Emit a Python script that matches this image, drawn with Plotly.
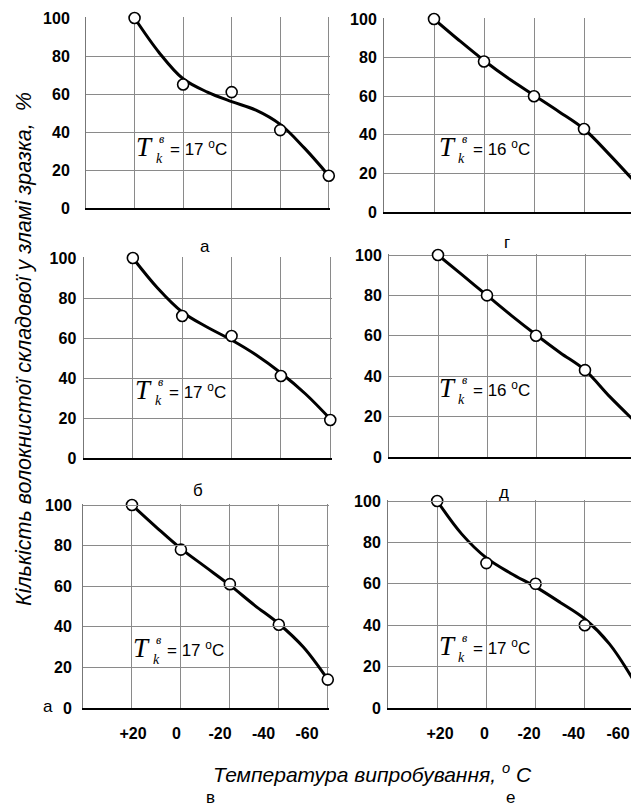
import plotly.graph_objects as go

W, H = 631, 809

# ---------------- data ----------------
temps = [20, 0, -20, -40, -60]
tick_text = ["+20", "0", "-20", "-40", "-60"]
y_ticks = [0, 20, 40, 60, 80, 100]

# measured points (open circles)
pts_a = [100, 65, 61, 41, 17]
pts_g = [100, 78, 60, 43, 16]
pts_b = [100, 71, 61, 41, 19]
pts_d = [100, 80, 60, 43, 18]
pts_v = [100, 78, 61, 41, 14]
pts_e = [100, 70, 60, 40, 14]

# trend curves
curve_t = [20, 10, 0, -10, -20, -30, -40, -50, -60]
curve_a = [100, 82, 68, 61, 56, 51.5, 44, 31.5, 17]
curve_g = [100, 89, 78.5, 69, 60.5, 52, 43, 30, 16]
curve_b = [100, 85, 73, 65.5, 59, 51.5, 42.5, 32, 19.5]
curve_d = [100, 90, 80, 70, 60.5, 51.5, 43, 30, 18]
curve_v = [100, 89, 78.5, 69.5, 60.5, 50.7, 41.5, 30, 14]
curve_e = [100, 84, 72.5, 65, 58.5, 51, 43, 31, 13]

panel_labels = ["а", "г", "б", "д", "в", "е"]
tk_values = ["17", "16", "17", "16", "17", "17"]

y_title = "Кількість волокнистої складової у зламі зразка,\u00a0 %"
x_title = "Температура випробування, <sup>o</sup> С"

points = [pts_a, pts_g, pts_b, pts_d, pts_v, pts_e]
curves = [curve_a, curve_g, curve_b, curve_d, curve_v, curve_e]

# ---------------- layout geometry (pixels) ----------------
# (left(+40), right(-60), top(100), bottom(0))
geom = [
    (86, 330, 18, 208),
    (384, 634, 19, 212),
    (83.5, 331.5, 258, 458),
    (389, 634, 255, 457),
    (83, 329, 505, 708),
    (388, 634, 501, 708),
]
ytick_len = [12, 3, 3, 3, 7, 3]

def px(x):
    return x / W

def py(y):
    return 1 - y / H

fig = go.Figure()
layout = dict(
    width=W, height=H,
    margin=dict(l=0, r=0, t=0, b=0, pad=0, autoexpand=False),
    paper_bgcolor="white", plot_bgcolor="rgba(0,0,0,0)",
    showlegend=False,
    font=dict(family="Liberation Sans, Arial, sans-serif", color="black"),
)

grid_col = "#8a8a8a"
annotations = []
YTOP = 100.5

for i in range(6):
    n = i + 1
    xa = "x" if n == 1 else f"x{n}"
    ya = "y" if n == 1 else f"y{n}"
    left, right, top, bottom = geom[i]
    right_clip = min(right, W)
    x_end = 40 - 100 * (right_clip - left) / (right - left)
    if right <= W:
        x_end = -60.5
    top_px = bottom - (bottom - top) * YTOP / 100

    fig.add_trace(go.Scatter(
        x=curve_t, y=curves[i], xaxis=xa, yaxis=ya, mode="lines",
        line=dict(color="black", width=3, shape="spline", smoothing=1.0),
        hoverinfo="skip"))
    fig.add_trace(go.Scatter(
        x=temps, y=points[i], xaxis=xa, yaxis=ya, mode="markers",
        marker=dict(symbol="circle", size=11, color="white",
                    line=dict(color="black", width=1.6)),
        cliponaxis=False))

    layout["xaxis" if n == 1 else f"xaxis{n}"] = dict(
        domain=[px(left), px(right_clip)], anchor=ya, automargin=False,
        range=[40, x_end], tickvals=temps, ticktext=tick_text,
        showticklabels=False, showgrid=True, gridcolor=grid_col, gridwidth=1,
        zeroline=False, showline=True, linecolor="black", linewidth=2,
        mirror=False, fixedrange=True)
    layout["yaxis" if n == 1 else f"yaxis{n}"] = dict(
        domain=[py(bottom), py(top_px)], anchor=xa, automargin=False,
        range=[0, YTOP], tickvals=y_ticks,
        showgrid=True, gridcolor=grid_col, gridwidth=1, zeroline=False,
        showline=True, linecolor="#777777", linewidth=1, mirror=False,
        ticks="outside", ticklen=ytick_len[i],
        tickcolor="rgba(0,0,0,0)",
        tickfont=dict(size=16, weight="bold", family="Liberation Sans, Arial"),
        fixedrange=True)

# separate tick-label axes for the bottom row (labels sit slightly compressed)
lab_axes = [(89.5, 307, "y5", pts_v), (395.5, 618, "y6", pts_e)]
for j, (l0, l1, ya, pts) in enumerate(lab_axes):
    xa = f"x{7 + j}"
    fig.add_trace(go.Scatter(
        x=temps, y=pts, xaxis=xa, yaxis=ya, mode="markers",
        marker=dict(size=1, opacity=0), hoverinfo="skip"))
    layout[f"xaxis{7 + j}"] = dict(
        domain=[px(l0), px(l1)], anchor=ya, range=[40, -60], automargin=False,
        tickvals=temps, ticktext=tick_text, showgrid=False, zeroline=False,
        showline=False, ticks="outside", ticklen=11,
        tickcolor="rgba(0,0,0,0)",
        tickfont=dict(size=16, weight="bold", family="Liberation Sans, Arial"),
        fixedrange=True)

def ann(x, y, text, size, family, xanchor="center", **kw):
    d = dict(x=px(x), y=py(y), xref="paper", yref="paper", text=text,
             showarrow=False, xanchor=xanchor, yanchor="middle",
             font=dict(size=size, family=family))
    d.update(kw)
    return d

SANS = "Liberation Sans, Arial"
SERIF = "Liberation Serif, Times New Roman"

# panel letters
lab_pos = [(205, 246), (507, 242), (198, 490), (504, 492), (210, 797), (510, 797)]
for (x, y), t in zip(lab_pos, panel_labels):
    annotations.append(ann(x, y, t, 17, SANS))
annotations.append(ann(48, 706, "а", 17, SANS))

# T_k^в labels: (T center x, T center y)
tk_pos = [(144, 147), (447, 147), (143, 390), (447, 388), (141, 648), (447, 646)]
for (x, y), v in zip(tk_pos, tk_values):
    annotations.append(ann(x, y, "<i>T</i>", 27, SERIF))
    annotations.append(ann(x + 17, y - 8, "<i>в</i>", 12, SERIF))
    annotations.append(ann(x + 15, y + 11, "<i>k</i>", 14, SERIF))
    annotations.append(ann(x + 24, y + 1, f"= {v} <sup>o</sup>C", 17, SANS,
                           xanchor="left"))

# axis titles
annotations.append(ann(24, 349, f"<i>{y_title}</i>", 21.5, SANS, textangle=-90))
annotations.append(ann(372, 773, f"<i>{x_title}</i>", 21, SANS))

layout["annotations"] = annotations
fig.update_layout(**layout)
fig.write_html("out.html", config={"displayModeBar": False},
               post_script="document.body.style.margin='0';")
